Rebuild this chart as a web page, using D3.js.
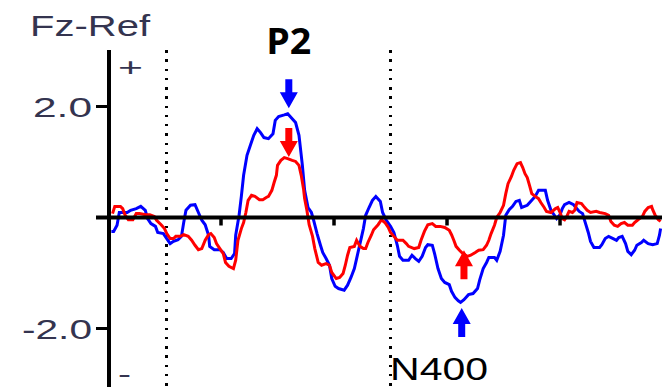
<!DOCTYPE html>
<html><head><meta charset="utf-8">
<script src="https://cdn.jsdelivr.net/npm/d3@7/dist/d3.min.js"></script>
<style>html,body{margin:0;padding:0;background:#fff;}svg{display:block;}</style>
</head><body><div id="chart"></div>
<script>
// ---- data (time in ms, amplitude in µV) ----
const channelLabel = "Fz-Ref";
const yTickValues = [2, -2];
const yTickLabels = ["2.0", "-2.0"];
const timeTicks = [0, 100, 200, 300];
const markerTimes = [-48, 150];

const blueT = [-97,-95,-92,-90,-88,-83,-80,-75,-71,-67,-65,-62,-58,-56,-51,-48,-45,-42,-38,-35,-33,-31,-27,-23,-20,-17,-14,-11,-10,-6,-1,2,5,9,12,13,16,18,20,23,26,29,32,35,38,42,46,48,51,56,59,63,66,69,72,74,77,80,82,85,88,90,93,96,98,101,104,109,112,115,118,120,123,126,128,131,134,137,141,143,146,150,153,156,158,161,166,169,172,175,178,181,183,187,189,192,195,198,202,204,207,210,212,215,219,223,227,229,232,235,237,242,244,247,250,252,255,258,261,264,266,271,274,278,281,287,289,292,295,297,300,302,304,308,312,314,317,320,322,325,327,330,335,337,340,343,347,350,352,355,358,360,363,366,368,372,374,378,382,386,388,389];
const blueV = [-0.25,-0.25,-0.14,0.09,0.09,0.09,0.13,0.16,0.20,0.13,-0.02,-0.11,-0.16,-0.27,-0.29,-0.38,-0.47,-0.43,-0.40,-0.34,-0.09,0.13,0.22,0.23,0.09,-0.05,-0.13,-0.32,-0.52,-0.58,-0.58,-0.63,-0.74,-0.74,-0.65,-0.32,0.04,0.38,0.76,1.12,1.30,1.48,1.60,1.53,1.44,1.42,1.51,1.75,1.82,1.85,1.87,1.78,1.71,1.48,0.94,0.49,0.18,0.09,-0.05,-0.29,-0.50,-0.63,-0.74,-0.86,-1.10,-1.24,-1.28,-1.31,-1.22,-1.08,-0.92,-0.74,-0.47,-0.20,0.04,0.18,0.31,0.38,0.29,0.09,-0.04,-0.16,-0.27,-0.50,-0.70,-0.77,-0.77,-0.68,-0.74,-0.79,-0.70,-0.54,-0.49,-0.50,-0.65,-0.92,-1.10,-1.17,-1.21,-1.33,-1.44,-1.50,-1.53,-1.48,-1.39,-1.37,-1.28,-1.12,-0.92,-0.81,-0.72,-0.72,-0.77,-0.61,-0.32,0.04,0.14,0.20,0.29,0.31,0.18,0.22,0.29,0.38,0.49,0.49,0.31,0.13,0.04,-0.02,0.05,0.16,0.23,0.27,0.23,0.18,0.11,0.07,-0.07,-0.27,-0.43,-0.54,-0.54,-0.49,-0.38,-0.34,-0.38,-0.41,-0.36,-0.34,-0.47,-0.61,-0.67,-0.59,-0.50,-0.45,-0.41,-0.47,-0.49,-0.47,-0.32,-0.20];

const redT = [-96,-94,-89,-87,-85,-82,-78,-75,-72,-67,-63,-59,-57,-53,-50,-48,-45,-42,-40,-36,-33,-29,-26,-23,-20,-17,-14,-11,-9,-6,-4,-1,2,4,7,11,13,15,18,20,22,24,27,30,34,37,40,42,45,47,49,50,53,56,59,63,66,69,71,73,74,76,78,81,83,86,89,93,96,98,102,105,108,110,112,114,118,120,123,126,128,130,133,135,139,142,145,148,150,153,156,161,164,166,171,175,177,180,183,187,190,194,198,202,204,206,208,211,214,218,221,225,228,232,235,237,239,242,244,247,250,252,254,257,259,262,265,267,269,271,273,275,278,281,283,286,288,292,296,298,300,302,304,306,308,311,313,315,319,321,324,327,332,335,340,343,345,348,351,354,357,360,364,366,369,373,375,378,381,382,384,387,389];
const redV = [0.07,0.20,0.20,0.16,0.05,-0.04,-0.04,0.07,0.07,0.05,0.05,0.02,-0.05,-0.13,-0.20,-0.29,-0.38,-0.38,-0.34,-0.34,-0.31,-0.34,-0.41,-0.50,-0.58,-0.56,-0.41,-0.31,-0.29,-0.36,-0.47,-0.56,-0.65,-0.81,-0.88,-0.92,-0.77,-0.41,-0.20,-0.09,0.09,0.31,0.40,0.38,0.32,0.32,0.36,0.38,0.49,0.63,0.76,0.94,1.03,1.08,1.06,1.03,1.01,0.94,0.76,0.52,0.34,0.13,-0.13,-0.34,-0.56,-0.81,-0.86,-0.83,-0.86,-0.99,-1.10,-1.08,-1.01,-0.86,-0.68,-0.54,-0.52,-0.41,-0.52,-0.56,-0.56,-0.45,-0.32,-0.22,-0.13,-0.04,-0.09,-0.18,-0.27,-0.34,-0.41,-0.41,-0.47,-0.52,-0.56,-0.54,-0.41,-0.25,-0.13,-0.11,-0.16,-0.16,-0.18,-0.23,-0.31,-0.41,-0.52,-0.59,-0.65,-0.70,-0.68,-0.63,-0.59,-0.58,-0.50,-0.41,-0.29,-0.14,0.00,0.09,0.22,0.43,0.61,0.74,0.85,0.97,0.99,0.90,0.79,0.72,0.58,0.43,0.38,0.34,0.27,0.18,0.11,0.09,0.16,0.18,0.09,-0.02,-0.04,0.02,0.11,0.09,0.13,0.27,0.25,0.20,0.13,0.09,0.11,0.09,0.07,0.04,-0.07,-0.14,-0.16,-0.11,-0.09,-0.14,-0.14,-0.09,-0.04,0.02,0.11,0.18,0.20,0.14,0.05,-0.04,-0.07];

// annotations: arrows pointing at components
const arrows = [
  {t: 60,  v: 1.97,  dir: "down", color: "#0000ff"},
  {t: 60,  v: 1.09,  dir: "down", color: "#ff0000"},
  {t: 215, v: -0.59, dir: "up",   color: "#ff0000"},
  {t: 213, v: -1.63, dir: "up",   color: "#0000ff"}
];
const componentLabels = [
  {text: "P2",   t: 60,  v: 2.95, bold: true,  len: 45, size: 36, font: "Open Sans, Liberation Sans, sans-serif"},
  {text: "N400", t: 193, v: -2.93, bold: false, len: 98, size: 32, font: "Liberation Sans, Arial, sans-serif"}
];

// ---- drawing ----
const W = 662, H = 387;
const svg = d3.select("#chart").append("svg").attr("width", W).attr("height", H);

const x = d3.scaleLinear().domain([-100, 389]).range([108, 660.6]);
const y = d3.scaleLinear().domain([-2, 2]).range([328.5, 106.5]);

const txtColor = "#34344f";

// dotted vertical markers
svg.selectAll("line.marker").data(markerTimes).join("line")
  .attr("x1", d => x(d)).attr("x2", d => x(d))
  .attr("y1", 50).attr("y2", H)
  .attr("stroke", "#000").attr("stroke-width", 3)
  .attr("stroke-dasharray", "2.5 6.75")
  .attr("shape-rendering", "crispEdges");

// curves
const line = d3.line().x(d => x(d[0])).y(d => y(d[1]));
const blue = blueT.map((t, i) => [t, blueV[i]]);
const red = redT.map((t, i) => [t, redV[i]]);
svg.append("path").datum(blue).attr("d", line)
  .attr("fill", "none").attr("stroke", "#0000ff").attr("stroke-width", 3)
  .attr("stroke-linejoin", "miter");
svg.append("path").datum(red).attr("d", line)
  .attr("fill", "none").attr("stroke", "#ff0000").attr("stroke-width", 3)
  .attr("stroke-linejoin", "miter");

// zero line with time ticks
svg.append("line").attr("x1", 96).attr("x2", W)
  .attr("y1", y(0)).attr("y2", y(0))
  .attr("stroke", "#000").attr("stroke-width", 4);
svg.selectAll("line.xtick").data(timeTicks).join("line")
  .attr("x1", d => x(d)).attr("x2", d => x(d))
  .attr("y1", y(0)).attr("y2", y(0) + 8)
  .attr("stroke", "#000").attr("stroke-width", 3.5);

// y axis
svg.append("line").attr("x1", x(-100) + 1).attr("x2", x(-100) + 1)
  .attr("y1", 50).attr("y2", H)
  .attr("stroke", "#000").attr("stroke-width", 4);
svg.selectAll("line.ytick").data(yTickValues).join("line")
  .attr("x1", 96).attr("x2", x(-100))
  .attr("y1", d => y(d)).attr("y2", d => y(d))
  .attr("stroke", "#000").attr("stroke-width", 3);
svg.selectAll("text.ylab").data(yTickValues).join("text")
  .attr("x", 92).attr("y", d => y(d) + 10)
  .attr("text-anchor", "end")
  .attr("font-family", "Liberation Sans, Arial, sans-serif")
  .attr("font-size", 28).attr("fill", txtColor)
  .attr("textLength", (d, i) => yTickLabels[i].length === 3 ? 59 : 70)
  .attr("lengthAdjust", "spacingAndGlyphs")
  .text((d, i) => yTickLabels[i]);

// polarity signs
svg.append("text").attr("x", 118).attr("y", 76)
  .attr("font-family", "Liberation Sans, Arial, sans-serif")
  .attr("font-size", 25).attr("fill", txtColor)
  .attr("textLength", 25).attr("lengthAdjust", "spacingAndGlyphs").text("+");
svg.append("text").attr("x", 118).attr("y", 383)
  .attr("font-family", "Liberation Sans, Arial, sans-serif")
  .attr("font-size", 25).attr("fill", txtColor)
  .attr("textLength", 13).attr("lengthAdjust", "spacingAndGlyphs").text("-");

// channel label
svg.append("text").attr("x", 30).attr("y", 36)
  .attr("font-family", "Liberation Sans, Arial, sans-serif")
  .attr("font-size", 29).attr("fill", txtColor)
  .attr("textLength", 120).attr("lengthAdjust", "spacingAndGlyphs")
  .text(channelLabel);

// arrows
const shaftW = 7, headW = 18, headL = 16, shaftL = 13;
arrows.forEach(a => {
  const cx = x(a.t), ty = y(a.v), s = a.dir === "down" ? -1 : 1;
  const hb = ty + s * headL, tail = hb + s * shaftL;
  const pts = [[cx, ty], [cx + headW / 2, hb], [cx + shaftW / 2, hb], [cx + shaftW / 2, tail],
               [cx - shaftW / 2, tail], [cx - shaftW / 2, hb], [cx - headW / 2, hb]];
  svg.append("polygon").attr("points", pts.map(p => p.join(",")).join(" "))
    .attr("fill", a.color);
});

// component labels
componentLabels.forEach(l => {
  svg.append("text").attr("x", x(l.t)).attr("y", y(l.v))
    .attr("text-anchor", "middle")
    .attr("font-family", l.font)
    .attr("font-weight", l.bold ? 700 : 400)
    .attr("font-size", l.size).attr("fill", "#000")
    .attr("textLength", l.len).attr("lengthAdjust", "spacingAndGlyphs")
    .text(l.text);
});
</script></body></html>
